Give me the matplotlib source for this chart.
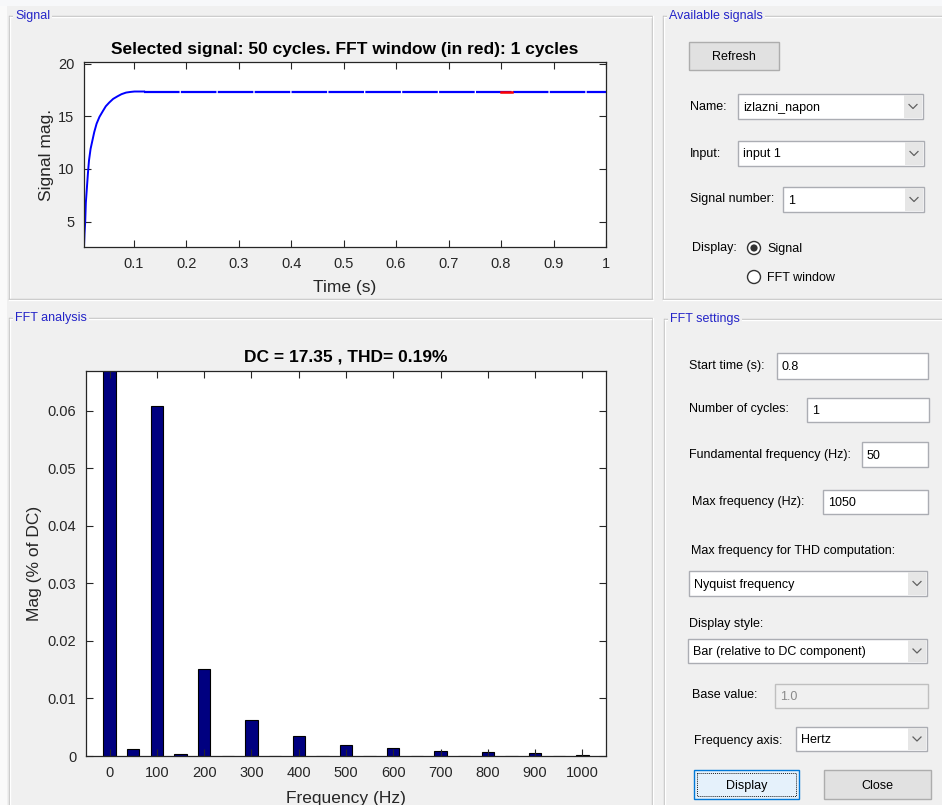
import numpy as np
import matplotlib
matplotlib.use("Agg")
import matplotlib.pyplot as plt
from matplotlib.patches import Rectangle, Circle

plt.rcParams['font.family'] = ['Liberation Sans', 'DejaVu Sans']

# ---- signal (time in s, magnitude) ----
sig_time = [0.0055, 0.0065, 0.0078, 0.009, 0.011, 0.013, 0.015, 0.018, 0.0215,
            0.025, 0.0295, 0.035, 0.0415, 0.047, 0.0535, 0.061, 0.0695, 0.077,
            0.0857, 0.094, 0.1017, 0.12, 1.0]
sig_value = [2.6, 3.9, 5.0, 6.8, 8.2, 9.6, 10.8, 11.9, 12.7,
             13.5, 14.3, 14.95, 15.5, 15.95, 16.3, 16.65, 16.9, 17.1,
             17.25, 17.31, 17.35, 17.35, 17.35]

start_time = 0.8
n_cycles = 1
fundamental = 50
dc_value = 17.35
thd = 0.19

# ---- harmonic spectrum (% of DC) ----
harm_freq = [0, 50, 100, 150, 200, 250, 300, 350, 400, 450, 500,
             550, 600, 650, 700, 750, 800, 850, 900, 950, 1000]
harm_mag = [100.0, 0.00115, 0.0608, 0.0003, 0.0151, 0.00004, 0.0062, 0.00004,
            0.00353, 0.00003, 0.0019, 0.00003, 0.00146, 0.00003, 0.00088,
            0.00003, 0.00065, 0.00003, 0.00046, 0.00003, 0.00024]

time_ticks = [0.1, 0.2, 0.3, 0.4, 0.5, 0.6, 0.7, 0.8, 0.9, 1.0]
time_ticklabels = ['0.1', '0.2', '0.3', '0.4', '0.5', '0.6', '0.7', '0.8', '0.9', '1']
mag_ticks = [5, 10, 15, 20]
freq_ticks = [0, 100, 200, 300, 400, 500, 600, 700, 800, 900, 1000]
pct_ticks = [0, 0.01, 0.02, 0.03, 0.04, 0.05, 0.06]
pct_ticklabels = ['0', '0.01', '0.02', '0.03', '0.04', '0.05', '0.06']

W, H = 942, 805
fig = plt.figure(figsize=(W / 100, H / 100), dpi=100, facecolor='#F0F0F0')

# ---- window background drawn in pixel coordinates ----
bg = fig.add_axes([0, 0, 1, 1], zorder=-5)
bg.set_xlim(0, W)
bg.set_ylim(H, 0)
bg.axis('off')
bg.add_patch(Rectangle((0, 0), W, 6, facecolor='#F7F8FA', edgecolor='none'))
bg.add_patch(Rectangle((0, 6), 7, H, facecolor='#FAFAFA', edgecolor='none'))

UI = dict(fontsize=9, color='#000000', va='center')
TITLE_BLUE = '#2424C8'


def panel(x0, y0, x1, y1, title):
    gray, white = '#C2C2C2', '#FFFFFF'
    bg.plot([x0, x1, x1], [y0, y0, y1], color=gray, lw=1, solid_capstyle='butt')
    bg.plot([x0, x0], [y0, y1], color=gray, lw=1)
    bg.plot([x0 + 1, x1 - 1], [y0 + 1, y0 + 1], color=white, lw=1)
    bg.plot([x0 + 1, x0 + 1], [y0 + 1, y1], color=white, lw=1)
    bg.plot([x1 + 1, x1 + 1], [y0, y1], color=white, lw=1)
    if y1 < H:
        bg.plot([x0, x1], [y1, y1], color=gray, lw=1)
        bg.plot([x0, x1 + 1], [y1 + 1, y1 + 1], color=white, lw=1)
    bg.text(x0 + 6, y0, title, fontsize=9, color=TITLE_BLUE, va='center', ha='left',
            bbox=dict(facecolor='#F0F0F0', edgecolor='none', pad=1.5))


def label(x, y, s, **kw):
    d = dict(UI)
    d.update(kw)
    bg.text(x, y, s, ha='left', **d)


def field(x0, y0, x1, y1, text, dropdown=False, disabled=False):
    face = '#F0F0F0' if disabled else 'white'
    edge = '#BFBFBF' if disabled else '#ABADB3'
    bg.add_patch(Rectangle((x0, y0), x1 - x0, y1 - y0, facecolor=face, edgecolor=edge, lw=1))
    if dropdown:
        bg.add_patch(Rectangle((x1 - 19, y0 + 1), 18, y1 - y0 - 2, facecolor='#E6E6E6',
                               edgecolor='none'))
        cx, cy = x1 - 10, (y0 + y1) / 2
        bg.plot([cx - 4, cx, cx + 4], [cy - 2, cy + 2, cy - 2], color='#606060', lw=0.9)
    bg.text(x0 + 5, (y0 + y1) / 2 + 1, text, fontsize=9,
            color='#8A8A8A' if disabled else '#000000', va='center', ha='left')


def button(x0, y0, x1, y1, text, focus=False):
    if focus:
        bg.add_patch(Rectangle((x0, y0), x1 - x0, y1 - y0, facecolor='#E5F1FB',
                               edgecolor='#0078D7', lw=1))
        bg.add_patch(Rectangle((x0 + 3, y0 + 3), x1 - x0 - 6, y1 - y0 - 6, facecolor='none',
                               edgecolor='#202020', lw=0.7, linestyle=(0, (1, 1))))
    else:
        bg.add_patch(Rectangle((x0, y0), x1 - x0, y1 - y0, facecolor='#E1E1E1',
                               edgecolor='#ADADAD', lw=1))
    bg.text((x0 + x1) / 2, (y0 + y1) / 2 + 1, text, fontsize=9, color='#000000',
            ha='center', va='center')


def radio(cx, cy, text, selected):
    bg.add_patch(Circle((cx, cy), 6.5, facecolor='white', edgecolor='#333333', lw=1))
    if selected:
        bg.add_patch(Circle((cx, cy), 3.6, facecolor='#333333', edgecolor='none'))
    label(cx + 13, cy + 1, text)


# panels
panel(9, 16, 652, 299, 'Signal')
panel(9, 318, 652, H + 5, 'FFT analysis')
panel(663, 16, W + 5, 299, 'Available signals')
panel(664, 319, W + 5, H + 5, 'FFT settings')

# available signals controls
button(689, 42, 779, 70, 'Refresh')
label(690, 107, 'Name:')
field(738, 94, 923, 119, 'izlazni_napon', dropdown=True)
label(690, 154, 'Input:')
field(738, 141, 924, 166, 'input 1', dropdown=True)
label(690, 199, 'Signal number:')
field(783, 187, 924, 212, '1', dropdown=True)
label(692, 248, 'Display:')
radio(754, 248, 'Signal', True)
radio(754, 277, 'FFT window', False)

# FFT settings controls
label(689, 366, 'Start time (s):')
field(777, 353, 928, 379, f'{start_time:g}')
label(689, 409, 'Number of cycles:')
field(807, 398, 929, 422, f'{n_cycles}')
label(689, 455, 'Fundamental frequency (Hz):')
field(862, 442, 928, 467, f'{fundamental}')
label(692, 502, 'Max frequency (Hz):')
field(823, 490, 928, 514, '1050')
label(691, 551, 'Max frequency for THD computation:')
field(689, 571, 927, 596, 'Nyquist frequency', dropdown=True)
label(689, 624, 'Display style:')
field(688, 639, 927, 663, 'Bar (relative to DC component)', dropdown=True)
label(692, 695, 'Base value:')
field(775, 684, 928, 708, '1.0', disabled=True)
label(694, 741, 'Frequency axis:')
field(796, 727, 927, 751, 'Hertz', dropdown=True)
button(694, 770, 799, 799, 'Display', focus=True)
button(824, 770, 931, 799, 'Close')

# ---- plot axes ----
AX_COLOR = '#262626'


def px_axes(x0, y0, x1, y1):
    ax = fig.add_axes([x0 / W, 1 - y1 / H, (x1 - x0) / W, (y1 - y0) / H])
    ax.set_facecolor('white')
    for s in ax.spines.values():
        s.set_color(AX_COLOR)
        s.set_linewidth(0.9)
    ax.tick_params(direction='in', top=True, right=True, length=5, width=0.8,
                   colors=AX_COLOR, labelsize=10.5, pad=7)
    return ax


t = np.array(sig_time)
v = np.array(sig_value)

ax1 = px_axes(84, 62, 606, 247)
rise = t <= 0.12
steady = t >= 0.12
ax1.plot(t[rise], v[rise], color='#0000FF', lw=1.4)
ax1.plot(t[steady], v[steady], color='#0000FF', lw=1.6, linestyle=(0, (16, 0.6)))
win_t = np.array([start_time, start_time + n_cycles / fundamental])
win_v = np.interp(win_t, t, v)
ax1.plot(win_t, win_v, color='#FF0000', lw=1.8)
ax1.set_xlim(t[0], t[-1])
ax1.set_ylim(2.6, 20.15)
ax1.set_xticks(time_ticks)
ax1.set_xticklabels(time_ticklabels)
ax1.set_yticks(mag_ticks)
ax1.set_title(f'Selected signal: 50 cycles. FFT window (in red): {n_cycles} cycles',
              fontsize=12.5, fontweight='bold', color='#000000', pad=6)
ax1.set_xlabel('Time (s)', fontsize=12.5, color=AX_COLOR, labelpad=7)
ax1.set_ylabel('Signal mag.', fontsize=12.5, color=AX_COLOR, labelpad=3)

ax2 = px_axes(86, 371, 606, 756)
ax2.bar(harm_freq, harm_mag, width=26, color='#000080', edgecolor='#000000', lw=0.8)
ax2.set_xlim(-50, 1050)
ax2.set_ylim(0, 1.1 * max(harm_mag[1:]))
ax2.set_xticks(freq_ticks)
ax2.set_yticks(pct_ticks)
ax2.set_yticklabels(pct_ticklabels)
ax2.set_title(f'DC = {dc_value:.2f} , THD= {thd:.2f}%', fontsize=12.5, fontweight='bold',
              color='#000000', pad=7)
ax2.set_xlabel('Frequency (Hz)', fontsize=12.5, color=AX_COLOR, labelpad=8)
ax2.set_ylabel('Mag (% of DC)', fontsize=12.5, color=AX_COLOR, labelpad=4)

fig.savefig('out.png', dpi=100, facecolor=fig.get_facecolor())
